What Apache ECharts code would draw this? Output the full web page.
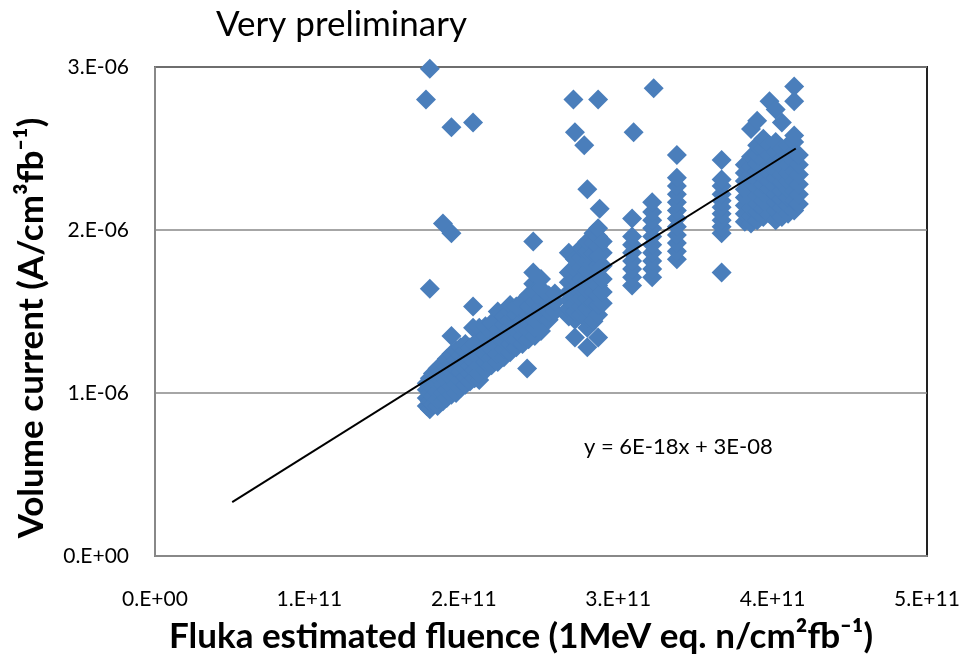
<!DOCTYPE html>
<html>
<head>
<meta charset="utf-8">
<script src="https://cdn.jsdelivr.net/npm/echarts@6/dist/echarts.min.js"></script>
<style>html,body{margin:0;padding:0;background:#fff}#c{width:965px;height:658px}</style>
</head>
<body>
<div id="c"></div>
<script>
// Units: fluence in 1E+11 n/cm2/fb-1, current in 1E-06 A/cm3/fb-1
// Each column: [fluence, [currents...]]
const columns = [
  [1.755, [2.80]],
  [1.76, [0.92, 0.97, 1.02, 1.06]],
  [1.78, [0.90, 0.95, 1.00, 1.04, 1.09, 1.64, 2.99]],
  [1.80, [0.93, 0.98, 1.03, 1.08, 1.12]],
  [1.83, [0.92, 0.96, 1.01, 1.06, 1.10, 1.15]],
  [1.865, [0.95, 1.00, 1.05, 1.10, 1.14, 1.18, 2.04]],
  [1.89, [0.97, 1.02, 1.07, 1.12, 1.16, 1.21]],
  [1.92, [0.99, 1.04, 1.09, 1.13, 1.18, 1.24, 1.35, 1.98, 2.63]],
  [1.95, [1.00, 1.05, 1.10, 1.15, 1.20, 1.26]],
  [1.98, [1.03, 1.08, 1.13, 1.18, 1.23, 1.28]],
  [2.01, [1.05, 1.10, 1.15, 1.20, 1.26, 1.30]],
  [2.04, [1.07, 1.12, 1.17, 1.22, 1.28]],
  [2.06, [1.40, 1.53, 2.66]],
  [2.07, [1.09, 1.14, 1.19, 1.24, 1.30]],
  [2.10, [1.08, 1.12, 1.17, 1.22, 1.27, 1.33, 1.40]],
  [2.14, [1.14, 1.19, 1.24, 1.29, 1.35, 1.41]],
  [2.18, [1.17, 1.22, 1.27, 1.32, 1.37, 1.43]],
  [2.22, [1.19, 1.24, 1.29, 1.34, 1.39, 1.45, 1.50]],
  [2.26, [1.22, 1.27, 1.32, 1.37, 1.42, 1.47]],
  [2.30, [1.25, 1.30, 1.35, 1.40, 1.45, 1.50, 1.54]],
  [2.34, [1.28, 1.33, 1.38, 1.43, 1.48, 1.53]],
  [2.38, [1.30, 1.35, 1.40, 1.45, 1.50, 1.56]],
  [2.41, [1.15]],
  [2.42, [1.33, 1.38, 1.43, 1.48, 1.53, 1.60]],
  [2.45, [1.67, 1.74, 1.93]],
  [2.46, [1.35, 1.40, 1.45, 1.50, 1.56, 1.62]],
  [2.50, [1.38, 1.43, 1.48, 1.53, 1.58, 1.64, 1.70]],
  [2.55, [1.45, 1.50, 1.55, 1.60]],
  [2.59, [1.50, 1.56, 1.61]],
  [2.68, [1.47, 1.52, 1.57, 1.62, 1.68, 1.74, 1.86]],
  [2.71, [2.80]],
  [2.72, [1.34, 1.45, 1.50, 1.55, 1.60, 1.65, 1.70, 1.76, 1.82, 2.60]],
  [2.76, [1.48, 1.53, 1.58, 1.64, 1.70, 1.77, 1.83, 1.89]],
  [2.78, [2.52]],
  [2.80, [1.28, 1.40, 1.46, 1.52, 1.58, 1.63, 1.69, 1.75, 1.81, 1.87, 1.93, 2.25]],
  [2.84, [1.44, 1.50, 1.56, 1.62, 1.68, 1.74, 1.80, 1.86, 1.92, 1.98]],
  [2.87, [1.34, 1.48, 1.54, 1.60, 1.66, 1.72, 1.78, 1.84, 1.90, 1.96, 2.01, 2.80]],
  [2.88, [2.13]],
  [2.90, [1.55, 1.62, 1.70, 1.78, 1.86, 1.93]],
  [3.09, [1.66, 1.71, 1.76, 1.81, 1.86, 1.91, 1.96, 2.07]],
  [3.10, [2.60]],
  [3.22, [1.71, 1.76, 1.81, 1.86, 1.91, 1.96, 2.01, 2.06, 2.11, 2.17]],
  [3.23, [2.87]],
  [3.38, [1.82, 1.87, 1.92, 1.97, 2.02, 2.07, 2.12, 2.17, 2.22, 2.27, 2.32, 2.46]],
  [3.67, [1.74, 1.98, 2.02, 2.06, 2.10, 2.14, 2.18, 2.22, 2.27, 2.31, 2.43]],
  [3.82, [2.05, 2.10, 2.15, 2.20, 2.25, 2.30, 2.35, 2.40]],
  [3.86, [2.04, 2.09, 2.14, 2.19, 2.24, 2.29, 2.34, 2.39, 2.45, 2.62]],
  [3.90, [2.06, 2.11, 2.16, 2.21, 2.26, 2.31, 2.36, 2.41, 2.46, 2.52, 2.67]],
  [3.94, [2.08, 2.13, 2.18, 2.23, 2.28, 2.33, 2.38, 2.43, 2.50, 2.56]],
  [3.98, [2.10, 2.15, 2.20, 2.25, 2.30, 2.35, 2.40, 2.46, 2.52, 2.79]],
  [4.02, [2.06, 2.12, 2.17, 2.22, 2.27, 2.32, 2.37, 2.42, 2.48, 2.54, 2.74]],
  [4.06, [2.08, 2.14, 2.19, 2.24, 2.29, 2.34, 2.39, 2.44, 2.50, 2.66]],
  [4.10, [2.10, 2.15, 2.20, 2.25, 2.30, 2.35, 2.40, 2.46, 2.52]],
  [4.14, [2.12, 2.18, 2.24, 2.30, 2.36, 2.42, 2.48, 2.54, 2.58, 2.79, 2.88]],
  [4.17, [2.16, 2.22, 2.28, 2.34, 2.40, 2.46]]
];
// Linear fit end points (same units)
const trendX = [0.50, 4.15];
const trendY = [0.33, 2.50];
const xTickLabels = ['0.E+00', '1.E+11', '2.E+11', '3.E+11', '4.E+11', '5.E+11'];
const yTickLabels = ['0.E+00', '1.E-06', '2.E-06', '3.E-06'];
const titleText = 'Very preliminary';
const xName = 'Fluka estimated fluence (1MeV eq. n/cm²fb⁻¹)';
const yName = 'Volume current (A/cm³fb⁻¹)';
const fitText = 'y = 6E-18x + 3E-08';

const points = [];
columns.forEach(([x, ys]) => ys.forEach(y => points.push([x, y])));
const trend = trendX.map((x, i) => [x, trendY[i]]);

const FONT = 'Lato, "Open Sans", sans-serif';
const chart = echarts.init(document.getElementById('c'), null, {renderer: 'canvas'});
chart.setOption({
  animation: false,
  backgroundColor: '#fff',
  title: {
    text: titleText, left: 211, top: 2,
    textStyle: {fontFamily: FONT, fontSize: 35, fontWeight: 'normal', color: '#000'}
  },
  grid: {left: 155, right: 38, top: 67, bottom: 102, containLabel: false, outerBoundsMode: 'none',
    show: true, borderColor: '#222', borderWidth: 2, backgroundColor: '#fff'},
  xAxis: {
    type: 'value', min: 0, max: 5, interval: 1,
    axisLine: {show: true, onZero: false, lineStyle: {color: '#888', width: 2}},
    axisTick: {show: false},
    splitLine: {show: false},
    axisLabel: {margin: 33, fontFamily: FONT, fontSize: 21, color: '#000',
      formatter: v => xTickLabels[Math.round(v)]}
  },
  yAxis: {
    type: 'value', min: 0, max: 3, interval: 1,
    axisLine: {show: true, lineStyle: {color: '#888', width: 2}},
    axisTick: {show: false},
    splitLine: {show: true, lineStyle: {color: '#888', width: 1.5}},
    axisLabel: {margin: 26, fontFamily: FONT, fontSize: 21, color: '#000',
      formatter: v => yTickLabels[Math.round(v)]}
  },
  graphic: [{
    type: 'text', left: 584, top: 436,
    style: {text: fitText, fontFamily: FONT, fontSize: 22, fill: '#000'}
  }, {
    type: 'text', x: 521, y: 637,
    style: {text: xName, fontFamily: FONT, fontSize: 35, fontWeight: 'bold', fill: '#000',
      align: 'center', verticalAlign: 'middle'}
  }, {
    type: 'text', x: 32, y: 328, rotation: Math.PI / 2,
    style: {text: yName, fontFamily: FONT, fontSize: 35, fontWeight: 'bold', fill: '#000',
      align: 'center', verticalAlign: 'middle'}
  }],
  series: [{
    type: 'scatter', data: points, symbol: 'diamond', symbolSize: 20,
    itemStyle: {color: '#4A7EBB', opacity: 1}, z: 2
  }, {
    type: 'line', data: trend, symbol: 'none',
    lineStyle: {color: '#000', width: 2}, z: 3
  }]
});
</script>
</body>
</html>
